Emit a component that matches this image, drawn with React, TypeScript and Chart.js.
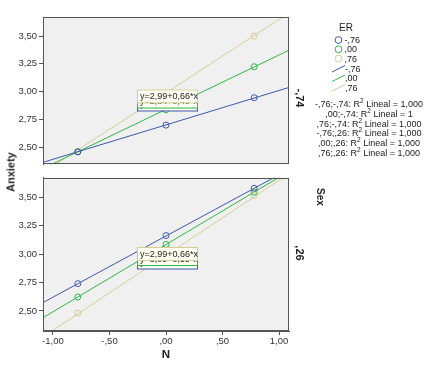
import React, { useEffect, useRef } from 'react';
import { Chart, registerables } from 'chart.js';

Chart.register(...registerables);

// ---------- data ----------
const N_VALUES = [-0.78, 0, 0.78];
const ER_LABELS = ['-,76', ',00', ',76'];
const SEX_LABELS = ['-,74', ',26'];
const COLORS = ['#3E58AC', '#2EB848', '#D3CE97'];

// Sex = -,74 (top panel)
const TOP_BLUE = [2.457, 2.698, 2.945];
const TOP_GREEN = [2.457, 2.836, 3.224];
const TOP_TAN = [2.462, 2.99, 3.5];
// Sex = ,26 (bottom panel)
const BOT_BLUE = [2.741, 3.164, 3.58];
const BOT_GREEN = [2.623, 3.086, 3.546];
const BOT_TAN = [2.482, 2.99, 3.515];

// fit lines, values read at the x ends
const FIT_X = [-1.1, 1.1];
const TOP_FIT_BLUE = [2.359, 3.041];
const TOP_FIT_GREEN = [2.301, 3.379];
const TOP_FIT_TAN = [2.264, 3.716];
const BOT_FIT_BLUE = [2.568, 3.752];
const BOT_FIT_GREEN = [2.434, 3.736];
const BOT_FIT_TAN = [2.264, 3.716];

const TOP_EQ = ['y=2,70+0,31*x', 'y=2,84+0,49*x', 'y=2,99+0,66*x'];
const BOT_EQ = ['y=3,16+0,54*x', 'y=3,09+0,59*x', 'y=2,99+0,66*x'];

const Y_TICKS = [2.5, 2.75, 3.0, 3.25, 3.5];
const Y_TICK_LABELS = ['2,50', '2,75', '3,00', '3,25', '3,50'];
const X_TICKS = [-1, -0.5, 0, 0.5, 1];
const X_TICK_LABELS = ['-1,00', '-,50', ',00', ',50', '1,00'];

const R2_LINES = [
  ['-,76;-,74: R', ' Lineal = 1,000'],
  [',00;-,74: R', ' Lineal = 1'],
  [',76;-,74: R', ' Lineal = 1,000'],
  ['-,76;,26: R', ' Lineal = 1,000'],
  [',00;,26: R', ' Lineal = 1,000'],
  [',76;,26: R', ' Lineal = 1,000'],
];

const FONT = '"Liberation Sans", Arial, Helvetica, sans-serif';
const AXIS_COLOR = '#555555';

function buildDatasets(points: number[][], fits: number[][]) {
  const ds: any[] = [];
  points.forEach((vals, i) => {
    ds.push({
      label: 'pts' + i,
      data: N_VALUES.map((x, j) => ({ x, y: vals[j] })),
      showLine: false,
      pointRadius: 3,
      pointBorderWidth: 1,
      pointBackgroundColor: 'rgba(0,0,0,0)',
      pointBorderColor: COLORS[i],
      borderColor: COLORS[i],
    });
  });
  fits.forEach((vals, i) => {
    ds.push({
      label: 'fit' + i,
      data: FIT_X.map((x, j) => ({ x, y: vals[j] })),
      showLine: true,
      pointRadius: 0,
      borderWidth: 1,
      borderColor: COLORS[i],
      fill: false,
    });
  });
  return ds;
}

function panelPlugin(eqs: string[], boxes: { x: number; y: number }[]) {
  return {
    id: 'panel',
    beforeDraw(chart: any) {
      const { ctx, chartArea: a } = chart;
      ctx.save();
      ctx.fillStyle = '#f0f0f0';
      ctx.fillRect(a.left, a.top, a.right - a.left, a.bottom - a.top);
      ctx.restore();
    },
    afterDatasetsDraw(chart: any) {
      const { ctx, chartArea: a } = chart;
      ctx.save();
      ctx.font = '9px ' + FONT;
      ctx.textBaseline = 'middle';
      ctx.textAlign = 'left';
      [0, 1, 2].forEach((i) => {
        const b = boxes[i];
        const w = 60, h = 13;
        ctx.fillStyle = '#fffef2';
        ctx.fillRect(b.x, b.y, w, h);
        ctx.strokeStyle = COLORS[i];
        ctx.lineWidth = 1;
        ctx.strokeRect(b.x + 0.5, b.y + 0.5, w, h);
        ctx.fillStyle = '#222';
        ctx.fillText(eqs[i], b.x + 3, b.y + h / 2 + 1);
      });
      ctx.strokeStyle = AXIS_COLOR;
      ctx.lineWidth = 1;
      ctx.strokeRect(Math.round(a.left) + 0.5, Math.round(a.top) + 0.5,
        Math.round(a.right - a.left) - 1, Math.round(a.bottom - a.top) - 1);
      ctx.restore();
    },
  };
}

function yScale(min: number, max: number) {
  return {
    type: 'linear',
    min,
    max,
    afterFit: (s: any) => { s.width = 43; },
    afterBuildTicks: (s: any) => { s.ticks = Y_TICKS.map((v) => ({ value: v })); },
    ticks: {
      padding: 2,
      color: '#333',
      font: { family: FONT, size: 9.5 },
      callback: (v: any) => {
        const i = Y_TICKS.findIndex((t) => Math.abs(t - v) < 1e-6);
        return i >= 0 ? Y_TICK_LABELS[i] : '';
      },
    },
    grid: { drawOnChartArea: false, drawTicks: true, tickLength: 4, color: AXIS_COLOR },
    border: { display: true, color: AXIS_COLOR },
  };
}

function xScale(show: boolean) {
  const s: any = {
    type: 'linear',
    min: -1.088,
    max: 1.088,
    display: show,
    afterBuildTicks: (sc: any) => { sc.ticks = X_TICKS.map((v) => ({ value: v })); },
    ticks: {
      padding: 1,
      color: '#333',
      maxRotation: 0,
      font: { family: FONT, size: 9.5 },
      callback: (v: any) => {
        const i = X_TICKS.findIndex((t) => Math.abs(t - v) < 1e-6);
        return i >= 0 ? X_TICK_LABELS[i] : '';
      },
    },
    grid: { drawOnChartArea: false, drawTicks: true, tickLength: 4, color: AXIS_COLOR },
    border: { display: true, color: AXIS_COLOR },
  };
  if (show) s.afterFit = (sc: any) => { sc.height = 34; };
  return s;
}

function PanelChart(props: {
  top: number; height: number; points: number[][]; fits: number[][];
  eqs: string[]; boxes: { x: number; y: number }[]; showX: boolean;
  yMin: number; yMax: number; padding: any;
}) {
  const ref = useRef<HTMLCanvasElement | null>(null);
  useEffect(() => {
    if (!ref.current) return;
    const chart = new Chart(ref.current, {
      type: 'line',
      data: { datasets: buildDatasets(props.points, props.fits) },
      options: {
        animation: false,
        responsive: false,
        devicePixelRatio: 1,
        layout: { padding: props.padding },
        plugins: { legend: { display: false }, tooltip: { enabled: false }, title: { display: false } },
        scales: { x: xScale(props.showX) as any, y: yScale(props.yMin, props.yMax) as any },
      },
      plugins: [panelPlugin(props.eqs, props.boxes)],
    });
    return () => chart.destroy();
  }, []);
  return (
    <canvas
      ref={ref}
      width={295}
      height={props.height}
      style={{ position: 'absolute', left: 0, top: props.top, width: 295, height: props.height }}
    />
  );
}

function T(props: { x: number; y: number; rot?: number; size?: number; bold?: boolean; align?: string; children: any }) {
  const tx = props.align === 'left' ? '0' : '-50%';
  return (
    <div
      style={{
        position: 'absolute', left: props.x, top: props.y, whiteSpace: 'nowrap', lineHeight: 1,
        fontFamily: FONT, fontSize: props.size || 9, fontWeight: props.bold ? 'bold' : 'normal',
        color: '#222', transform: `translate(${tx},-50%) rotate(${props.rot || 0}deg)`,
        transformOrigin: props.align === 'left' ? 'left center' : 'center center',
      }}
    >
      {props.children}
    </div>
  );
}

export default function App() {
  const circleY = [40, 49.3, 58.5];
  const lineY = [68.5, 78, 87.5];
  const r2Y = [104, 113.8, 123.6, 133.4, 143.2, 153];
  return (
    <div style={{ position: 'fixed', left: 0, top: 0, width: 431, height: 365, background: '#fff', overflow: 'hidden' }}>
      <PanelChart
        top={0} height={172} showX={false}
        points={[TOP_BLUE, TOP_GREEN, TOP_TAN]}
        fits={[TOP_FIT_BLUE, TOP_FIT_GREEN, TOP_FIT_TAN]}
        eqs={TOP_EQ}
        boxes={[{ x: 137, y: 97.5 }, { x: 137, y: 94.5 }, { x: 137, y: 89.5 }]}
        yMin={2.345} yMax={3.672}
        padding={{ top: 17, right: 6, bottom: 1, left: 0 }}
      />
      <PanelChart
        top={170} height={195} showX={true}
        points={[BOT_BLUE, BOT_GREEN, BOT_TAN]}
        fits={[BOT_FIT_BLUE, BOT_FIT_GREEN, BOT_FIT_TAN]}
        eqs={BOT_EQ}
        boxes={[{ x: 137, y: 85.5 }, { x: 137, y: 82 }, { x: 137, y: 77 }]}
        yMin={2.324} yMax={3.673}
        padding={{ top: 6, right: 6, bottom: 0, left: 0 }}
      />
      <T x={11} y={172} rot={-90} size={11} bold>Anxiety</T>
      <T x={166} y={355} size={11.5} bold>N</T>
      <T x={299} y={98} rot={90} size={11} bold>{SEX_LABELS[0]}</T>
      <T x={299} y={253} rot={90} size={11} bold>{SEX_LABELS[1]}</T>
      <T x={320} y={197} rot={90} size={10} bold>Sex</T>
      <T x={346} y={28} size={10}>ER</T>
      <svg style={{ position: 'absolute', left: 0, top: 0 }} width={431} height={365}>
        {circleY.map((y, i) => (
          <circle key={'c' + i} cx={338.5} cy={y} r={3.4} fill="none" stroke={COLORS[i]} strokeWidth={1} />
        ))}
        {lineY.map((y, i) => (
          <line key={'l' + i} x1={332} y1={y + 3.5} x2={345} y2={y - 3} stroke={COLORS[i]} strokeWidth={1} />
        ))}
      </svg>
      {circleY.map((y, i) => (
        <T key={'ct' + i} x={344.5} y={y} align="left">{ER_LABELS[i]}</T>
      ))}
      {lineY.map((y, i) => (
        <T key={'lt' + i} x={345} y={y} align="left">{ER_LABELS[i]}</T>
      ))}
      {R2_LINES.map((p, i) => (
        <T key={'r' + i} x={369} y={r2Y[i]} size={9}>
          {p[0]}<sup style={{ fontSize: 6.5, lineHeight: 0, verticalAlign: 'super' }}>2</sup>{p[1]}
        </T>
      ))}
    </div>
  );
}
